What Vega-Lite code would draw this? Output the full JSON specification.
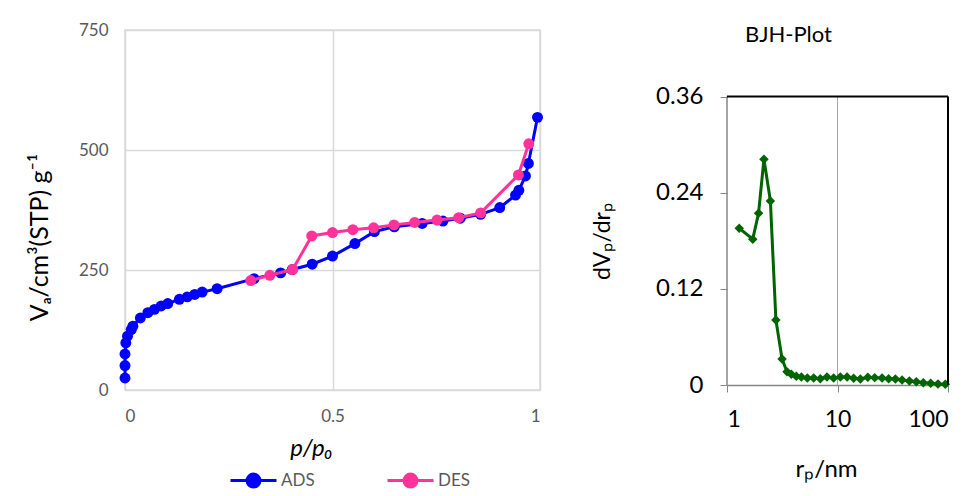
{
  "$schema": "https://vega.github.io/schema/vega-lite/v6.json",
  "background": "white",
  "padding": {"left": 26, "top": 20, "right": 5, "bottom": 0},
  "config": {"font": "Lato", "concat": {"spacing": 46}},
  "datasets": {
    "iso": [
      {"n": 1, "series": "ADS", "p": 0.0, "V": 25},
      {"n": 2, "series": "ADS", "p": 0.0, "V": 51},
      {"n": 3, "series": "ADS", "p": 0.0, "V": 75},
      {"n": 4, "series": "ADS", "p": 0.002, "V": 98},
      {"n": 5, "series": "ADS", "p": 0.006, "V": 112},
      {"n": 6, "series": "ADS", "p": 0.015, "V": 126},
      {"n": 7, "series": "ADS", "p": 0.019, "V": 133},
      {"n": 8, "series": "ADS", "p": 0.037, "V": 150},
      {"n": 9, "series": "ADS", "p": 0.055, "V": 161},
      {"n": 10, "series": "ADS", "p": 0.071, "V": 168},
      {"n": 11, "series": "ADS", "p": 0.087, "V": 175},
      {"n": 12, "series": "ADS", "p": 0.103, "V": 180},
      {"n": 13, "series": "ADS", "p": 0.131, "V": 189},
      {"n": 14, "series": "ADS", "p": 0.150, "V": 194},
      {"n": 15, "series": "ADS", "p": 0.168, "V": 199},
      {"n": 16, "series": "ADS", "p": 0.186, "V": 204},
      {"n": 17, "series": "ADS", "p": 0.222, "V": 211},
      {"n": 18, "series": "ADS", "p": 0.311, "V": 232},
      {"n": 19, "series": "ADS", "p": 0.375, "V": 244},
      {"n": 20, "series": "ADS", "p": 0.403, "V": 251},
      {"n": 21, "series": "ADS", "p": 0.451, "V": 262},
      {"n": 22, "series": "ADS", "p": 0.500, "V": 279},
      {"n": 23, "series": "ADS", "p": 0.554, "V": 305},
      {"n": 24, "series": "ADS", "p": 0.601, "V": 330},
      {"n": 25, "series": "ADS", "p": 0.649, "V": 340},
      {"n": 26, "series": "ADS", "p": 0.716, "V": 347},
      {"n": 27, "series": "ADS", "p": 0.766, "V": 352},
      {"n": 28, "series": "ADS", "p": 0.808, "V": 358},
      {"n": 29, "series": "ADS", "p": 0.857, "V": 366},
      {"n": 30, "series": "ADS", "p": 0.903, "V": 380},
      {"n": 31, "series": "ADS", "p": 0.941, "V": 406},
      {"n": 32, "series": "ADS", "p": 0.949, "V": 416},
      {"n": 33, "series": "ADS", "p": 0.965, "V": 446},
      {"n": 34, "series": "ADS", "p": 0.972, "V": 472},
      {"n": 35, "series": "ADS", "p": 0.994, "V": 568},
      {"n": 36, "series": "DES", "p": 0.973, "V": 513},
      {"n": 37, "series": "DES", "p": 0.948, "V": 448},
      {"n": 38, "series": "DES", "p": 0.857, "V": 369},
      {"n": 39, "series": "DES", "p": 0.804, "V": 359},
      {"n": 40, "series": "DES", "p": 0.752, "V": 354},
      {"n": 41, "series": "DES", "p": 0.698, "V": 349},
      {"n": 42, "series": "DES", "p": 0.648, "V": 344},
      {"n": 43, "series": "DES", "p": 0.599, "V": 338},
      {"n": 44, "series": "DES", "p": 0.549, "V": 334},
      {"n": 45, "series": "DES", "p": 0.500, "V": 328},
      {"n": 46, "series": "DES", "p": 0.450, "V": 321},
      {"n": 47, "series": "DES", "p": 0.404, "V": 251},
      {"n": 48, "series": "DES", "p": 0.349, "V": 239},
      {"n": 49, "series": "DES", "p": 0.303, "V": 228}
    ],
    "bjh": [
      {"r": 1.29, "dV": 0.1956},
      {"r": 1.71, "dV": 0.182},
      {"r": 1.93, "dV": 0.2143},
      {"r": 2.16, "dV": 0.2818},
      {"r": 2.47, "dV": 0.2297},
      {"r": 2.77, "dV": 0.0812},
      {"r": 3.15, "dV": 0.0325},
      {"r": 3.49, "dV": 0.0166},
      {"r": 3.82, "dV": 0.0133},
      {"r": 4.24, "dV": 0.0108},
      {"r": 4.71, "dV": 0.0100},
      {"r": 5.33, "dV": 0.0087},
      {"r": 6.09, "dV": 0.0087},
      {"r": 6.99, "dV": 0.0079},
      {"r": 8.03, "dV": 0.0100},
      {"r": 9.23, "dV": 0.0087},
      {"r": 10.6, "dV": 0.0100},
      {"r": 12.2, "dV": 0.0100},
      {"r": 14.0, "dV": 0.0083},
      {"r": 16.1, "dV": 0.0075},
      {"r": 18.8, "dV": 0.0096},
      {"r": 21.7, "dV": 0.0092},
      {"r": 25.3, "dV": 0.0087},
      {"r": 29.0, "dV": 0.0079},
      {"r": 33.4, "dV": 0.0075},
      {"r": 38.4, "dV": 0.0062},
      {"r": 44.7, "dV": 0.0050},
      {"r": 51.7, "dV": 0.0042},
      {"r": 59.8, "dV": 0.0029},
      {"r": 69.7, "dV": 0.0021},
      {"r": 81.2, "dV": 0.0012},
      {"r": 94.6, "dV": 0.0008}
    ]
  },
  "hconcat": [
    {
      "width": 415,
      "height": 360,
      "view": {"stroke": "#d9d9d9", "strokeWidth": 1.5},
      "data": {"name": "iso"},
      "encoding": {
        "x": {
          "field": "p", "type": "quantitative",
          "scale": {"domain": [0, 1], "nice": false},
          "axis": {
            "values": [0, 0.5, 1], "format": "~g", "grid": true, "gridColor": "#d9d9d9", "gridWidth": 1.5,
            "domain": false, "ticks": false, "labelColor": "#595959", "labelFontSize": 17, "labelPadding": 18,
            "title": "p/p₀", "titleFontSize": 24, "titleFontStyle": "italic", "titleFontWeight": "normal",
            "titleColor": "#000", "titleX": 186, "titleY": 58, "titleBaseline": "middle"
          }
        },
        "y": {
          "field": "V", "type": "quantitative",
          "scale": {"domain": [0, 750], "nice": false},
          "axis": {
            "values": [0, 250, 500, 750], "grid": true, "gridColor": "#d9d9d9", "gridWidth": 1.5,
            "domain": false, "ticks": false, "labelColor": "#595959", "labelFontSize": 17, "labelPadding": 17,
            "title": "Vₐ/cm³(STP) g⁻¹", "titleFontSize": 25, "titleFontWeight": "normal",
            "titleColor": "#000", "titleX": -86, "titleY": 207, "titleBaseline": "middle", "titleAngle": -90
          }
        },
        "color": {
          "field": "series", "type": "nominal",
          "scale": {"domain": ["ADS", "DES"], "range": ["#0000ff", "#ff3399"]},
          "legend": {
            "title": null, "orient": "none", "direction": "horizontal",
            "legendX": 104, "legendY": 426,
            "symbolType": "M-1,0 L1,0 M-0.28,0 A0.28,0.28 0 1,1 0.28,0 A0.28,0.28 0 1,1 -0.28,0 Z",
            "symbolSize": 2116, "symbolStrokeWidth": 3,
            "labelFontSize": 17, "labelColor": "#595959", "labelOffset": 3,
            "columnPadding": 66
          }
        },
        "order": {"field": "n", "type": "quantitative"}
      },
      "layer": [
        {"transform": [{"filter": "datum.series === 'ADS'"}], "mark": {"type": "line", "strokeWidth": 3}},
        {"transform": [{"filter": "datum.series === 'ADS'"}], "mark": {"type": "point", "filled": true, "opacity": 1, "size": 120}},
        {"transform": [{"filter": "datum.series === 'DES'"}], "mark": {"type": "line", "strokeWidth": 3}},
        {"transform": [{"filter": "datum.series === 'DES'"}], "mark": {"type": "point", "filled": true, "opacity": 1, "size": 120}}
      ]
    },
    {
      "width": 221,
      "height": 355,
      "title": {"text": "BJH-Plot", "fontSize": 22, "fontWeight": "normal", "color": "#000", "frame": "group", "anchor": "middle", "baseline": "middle", "offset": -27, "dx": -49},
      "view": {"stroke": null},
      "layer": [
        {
          "data": {"values": [{}]},
          "mark": {"type": "rule", "color": "#a6a6a6", "strokeWidth": 1},
          "encoding": {"x": {"datum": 10, "type": "quantitative"}, "y": {"datum": 0, "type": "quantitative"}, "y2": {"datum": 0.36}}
        },
        {
          "data": {"name": "bjh"},
          "mark": {"type": "line", "color": "#006400", "strokeWidth": 3},
          "encoding": {
            "x": {
              "field": "r", "type": "quantitative",
              "scale": {"type": "log", "domain": [1, 100], "nice": false},
              "axis": {
                "values": [1, 10, 100], "format": "~g", "grid": false,
                "domain": true, "domainColor": "#868686", "domainWidth": 1.5, "ticks": true, "tickColor": "#868686", "tickSize": 7,
                "labelColor": "#000", "labelFontSize": 23, "labelPadding": 16,
                "title": "rₚ/nm", "titleFontSize": 24, "titleFontWeight": "normal", "titleColor": "#000",
                "titleX": 99, "titleY": 84, "titleBaseline": "middle"
              }
            },
            "y": {
              "field": "dV", "type": "quantitative",
              "scale": {"domain": [0, 0.443], "nice": false},
              "axis": {
                "values": [0, 0.12, 0.24, 0.36], "format": ".2~f", "grid": false,
                "domain": false, "ticks": true, "tickColor": "#868686", "tickSize": 7,
                "labelColor": "#000", "labelFontSize": 24, "labelPadding": 17,
                "title": "dVₚ/drₚ", "titleFontSize": 23, "titleFontWeight": "normal", "titleColor": "#000",
                "titleX": -125, "titleY": 211, "titleBaseline": "middle", "titleAngle": -90
              }
            }
          }
        },
        {
          "data": {"name": "bjh"},
          "mark": {"type": "point", "shape": "diamond", "filled": true, "opacity": 1, "size": 90, "color": "#006400"},
          "encoding": {"x": {"field": "r", "type": "quantitative"}, "y": {"field": "dV", "type": "quantitative"}}
        },
        {
          "data": {"values": [{}]},
          "mark": {"type": "rule", "color": "#868686", "strokeWidth": 1.5},
          "encoding": {"x": {"datum": 1, "type": "quantitative"}, "y": {"datum": 0, "type": "quantitative"}, "y2": {"datum": 0.36}}
        },
        {
          "data": {"values": [{}]},
          "mark": {"type": "rule", "color": "#000000", "strokeWidth": 2},
          "encoding": {"x": {"datum": 100, "type": "quantitative"}, "y": {"datum": 0, "type": "quantitative"}, "y2": {"datum": 0.36}}
        },
        {
          "data": {"values": [{}]},
          "mark": {"type": "rule", "color": "#000000", "strokeWidth": 2},
          "encoding": {"x": {"datum": 1, "type": "quantitative"}, "x2": {"datum": 100}, "y": {"datum": 0.36, "type": "quantitative"}}
        }
      ]
    }
  ]
}
